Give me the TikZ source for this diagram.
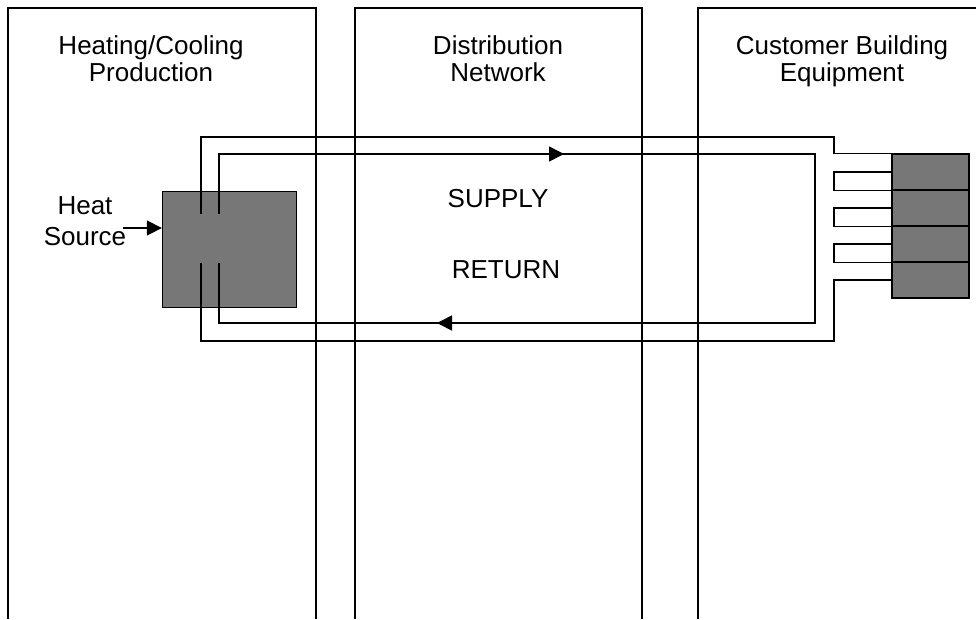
\documentclass[tikz,border=0pt]{standalone}
\usepackage{fontspec}
\setmainfont{Liberation Sans}
\usetikzlibrary{arrows.meta}

\definecolor{plantgray}{RGB}{119,119,119}

\begin{document}
\begin{tikzpicture}[x=1pt,y=-1pt,line width=1.3pt,
	txt/.style={font=\fontsize{26}{27}\selectfont,align=center,anchor=base,inner sep=0pt},
	unit/.style={rectangle,draw,fill=plantgray,inner sep=0pt},
	flow/.style={-{Triangle[length=15pt,width=15pt]}}]
	\useasboundingbox (0,0) rectangle (976,619);
	% the three columns
	\draw (8,619)--(8,8)--(316,8)--(316,619);
	\draw (355,619)--(355,8)--(642,8)--(642,619);
	\draw (698,619)--(698,8)--(976,8);
	\path (151,81) node(prod)[txt]{Heating/Cooling\\Production}
	(498,81) node(dist)[txt]{Distribution\\Network}
	(842,81) node(cust)[txt]{Customer Building\\Equipment}
	(85,245) node(heat)[txt]{Heat\\[4pt]Source}
	(498,207) node(sup)[txt]{SUPPLY}
	(506,278) node(ret)[txt]{RETURN}
	(229.5,249.5) node(hs)[unit,minimum width=134pt,minimum height=116pt]{};
	\foreach \i in {1,...,4}
		\node(c\i)[unit,minimum width=77pt,minimum height=36pt] at (930.5,{136+36*\i}) {};
	\coordinate (feed) at (834,137);
	\coordinate (back) at (834,341);
	\coordinate (in) at (123,228);
	% outer pipe
	\draw (201,214) |- (feed) |- (c1.north west);
	\foreach \i in {1,2,3}
		\draw (c\i.west) -| (feed |- c\i.south west) -- (c\i.south west);
	\draw (c4.west) -| (back) -| (201,263);
	% inner pipe
	\draw (219,214) |- (815,154) |- (219,323) -- (219,263);
	\draw[flow,line width=1.6pt] (412,154) -- (564,154);
	\draw[flow,line width=1.6pt] (590,323) -- (437,323);
	\draw[flow] (in) -- (in -| hs.west);
\end{tikzpicture}
\end{document}
